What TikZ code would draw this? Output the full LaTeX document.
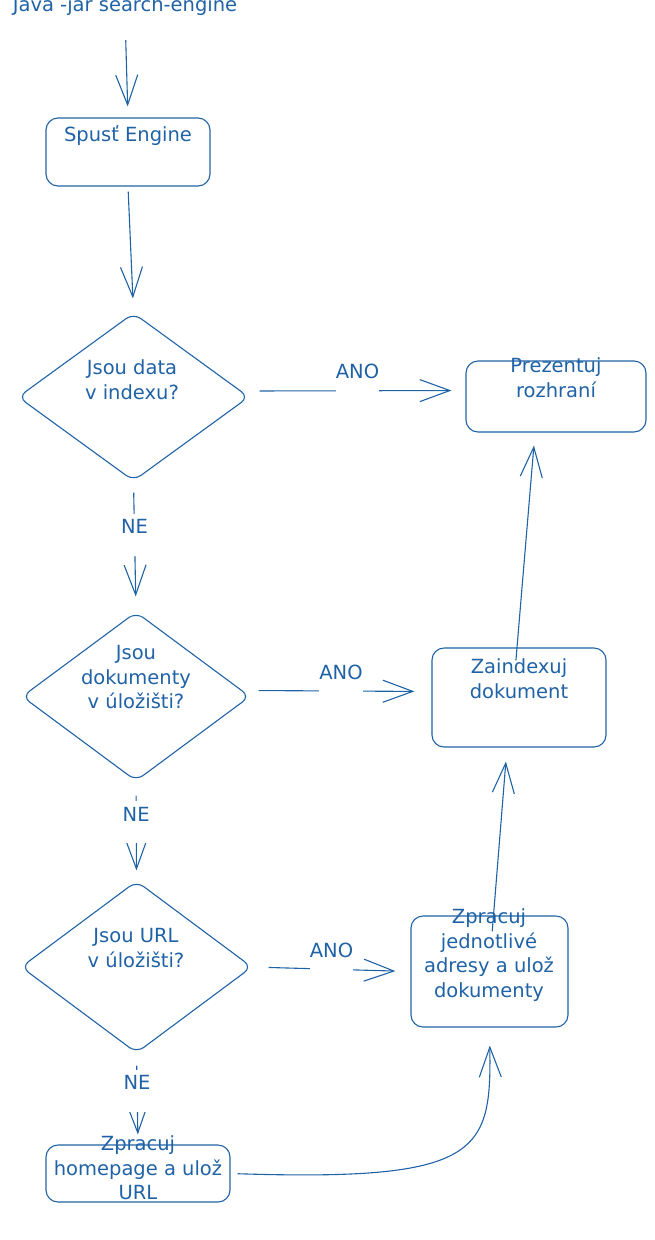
\documentclass[tikz,border=0pt]{standalone}
\usepackage{fontspec}
\setmainfont{DejaVu Sans}
\usetikzlibrary{arrows.meta,shapes.geometric}
\definecolor{ink}{RGB}{31,98,166}
\tikzset{
  box/.style={draw=ink,line width=1.1pt,rounded corners=12pt,inner sep=0pt},
  dec/.style={draw=ink,line width=1.1pt,shape=diamond,rounded corners=9pt,inner sep=0pt},
  txt/.style={text=ink,font=\fontsize{19.5}{24.5}\selectfont,align=center,inner sep=0pt},
  lbl/.style={txt,fill=white,text height=20pt,text depth=22pt,anchor=base},
  arr/.style={draw=ink,line width=1.1pt,-{Straight Barb[length=30pt,width=22pt]}}
}
\begin{document}
\begin{tikzpicture}[x=1pt,y=-1pt]
\useasboundingbox (0,0) rectangle (655,1240);
\node[txt,anchor=base] (start) at (125,11) {Java -jar search-engine};
\node[box,minimum width=164,minimum height=68] (spust) at (128,152) {};
\node[txt,anchor=north] (spust-t) at (128,125.5) {Spusť Engine};
\node[dec,minimum width=231,minimum height=168] (index) at (133.5,397) {};
\node[txt,anchor=north] (index-t) at (132,359.5) {Jsou data\\v indexu?};
\node[box,minimum width=180,minimum height=71] (prez) at (556,396.5) {};
\node[txt,anchor=north] (prez-t) at (556,357.5) {Prezentuj\\rozhraní};
\node[dec,minimum width=228,minimum height=169] (dok) at (136,696.5) {};
\node[txt,anchor=north] (dok-t) at (136,645.5) {Jsou\\dokumenty\\v úložišti?};
\node[box,minimum width=174,minimum height=99] (zaindex) at (519,697.5) {};
\node[txt,anchor=north] (zaindex-t) at (519,658.5) {Zaindexuj\\dokument};
\node[dec,minimum width=231,minimum height=172] (url) at (136.5,967) {};
\node[txt,anchor=north] (url-t) at (136,928.5) {Jsou URL\\v úložišti?};
\node[box,minimum width=157,minimum height=111] (zprac) at (489.5,971.5) {};
\node[txt,anchor=north] (zprac-t) at (489,908.5) {Zpracuj\\jednotlivé\\adresy a ulož\\dokumenty};
\node[box,minimum width=184,minimum height=57] (home) at (138,1173.5) {};
\node[txt,anchor=north] (home-t) at (138,1135.5) {Zpracuj\\homepage a ulož\\URL};
\draw[arr,shorten <=25pt,shorten >=11pt] (start.south) -- (spust.north);
\draw[arr,shorten <=5pt,shorten >=14pt] (spust.south) -- (index.north);
\draw[arr,shorten <=10pt,shorten >=14pt] ([yshift=6pt]index.east) -- node[lbl,yshift=12pt] (ano1) {ANO} ([yshift=6pt]prez.west);
\draw[arr,shorten <=11pt,shorten >=15pt] (index.south) -- node[lbl,pos=.4] (ne1) {NE} (dok.north);
\draw[arr,shorten <=8pt,shorten >=17pt] ([yshift=6pt]dok.east) -- node[lbl,yshift=12pt] (ano2) {ANO} ([yshift=6pt]zaindex.west);
\draw[arr,shorten <=14pt,shorten >=10pt] (dok.south) -- node[lbl,pos=.4] (ne2) {NE} (url.north);
\draw[arr,shorten <=16pt,shorten >=15pt] (url.east) -- node[lbl,yshift=12pt] (ano3) {ANO} (zprac.west);
\draw[arr,shorten <=12pt,shorten >=10pt] (url.south) -- node[lbl,pos=.4] (ne3) {NE} (home.north);
\draw[arr,shorten <=7pt,shorten >=18pt] (home.east) .. controls +(250,8) and +(2,125) .. (zprac.south);
\draw[arr,shorten <=-16pt,shorten >=14pt] ([xshift=4pt]zprac.north) -- ([xshift=-12pt]zaindex.south);
\draw[arr,shorten <=-13pt,shorten >=13pt] ([xshift=-2pt]zaindex.north) -- ([xshift=-21pt]prez.south);
\end{tikzpicture}
\end{document}
